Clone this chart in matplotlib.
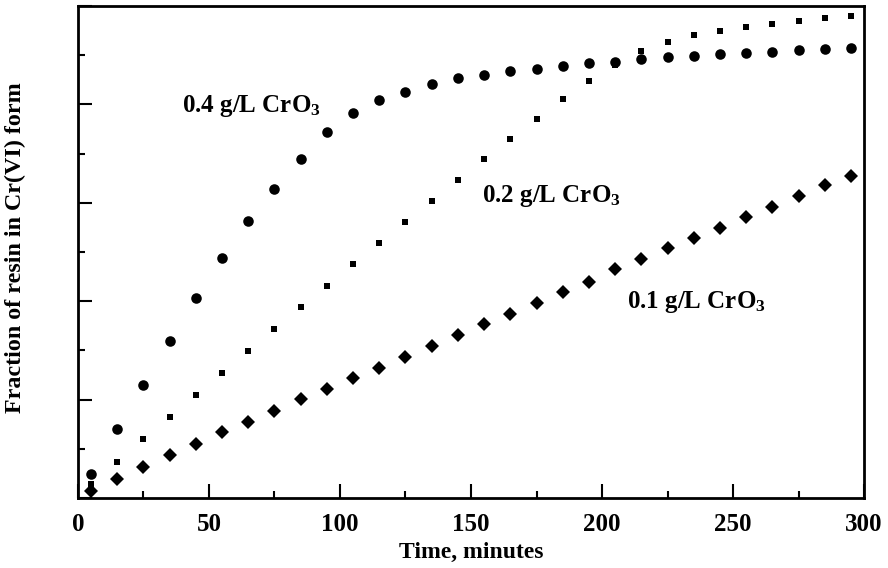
import matplotlib
matplotlib.use("Agg")
import matplotlib.pyplot as plt
from matplotlib.ticker import MultipleLocator, NullFormatter

plt.rcParams['font.family'] = ['Liberation Serif', 'DejaVu Serif']
plt.rcParams['font.weight'] = 'bold'
plt.rcParams['mathtext.default'] = 'regular'

# tempo em minutos (mesmo para as tres curvas)
tempo = [5, 15, 25, 35, 45, 55, 65, 75, 85, 95, 105, 115, 125, 135, 145,
         155, 165, 175, 185, 195, 205, 215, 225, 235, 245, 255, 265, 275, 285, 295]

# 0.4 g/L CrO3 (circulos)
frac_04 = [0.049, 0.140, 0.230, 0.319, 0.406, 0.488, 0.563, 0.628, 0.690, 0.744,
           0.783, 0.809, 0.825, 0.841, 0.854, 0.860, 0.868, 0.872, 0.878, 0.884,
           0.886, 0.893, 0.896, 0.898, 0.902, 0.905, 0.907, 0.911, 0.913, 0.915]

# 0.2 g/L CrO3 (quadrados pequenos)
frac_02 = [0.028, 0.073, 0.120, 0.165, 0.209, 0.254, 0.299, 0.343, 0.388, 0.431,
           0.475, 0.518, 0.561, 0.604, 0.646, 0.689, 0.730, 0.770, 0.811, 0.848,
           0.880, 0.909, 0.927, 0.941, 0.949, 0.957, 0.963, 0.970, 0.976, 0.980]

# 0.1 g/L CrO3 (losangos)
frac_01 = [0.014, 0.039, 0.063, 0.087, 0.110, 0.134, 0.155, 0.177, 0.201, 0.221,
           0.244, 0.264, 0.286, 0.309, 0.331, 0.353, 0.374, 0.396, 0.418, 0.439,
           0.465, 0.486, 0.508, 0.529, 0.549, 0.571, 0.592, 0.614, 0.636, 0.654]

rotulos = ['0.4 g/L CrO$_3$', '0.2 g/L CrO$_3$', '0.1 g/L CrO$_3$']

fig = plt.figure(figsize=(8.88, 5.68), dpi=100)
ax = fig.add_axes([0.0878, 0.1232, 0.8852, 0.8662])

ax.plot(tempo, frac_01, 'D', color='black', markersize=7.6, markeredgewidth=0)
ax.plot(tempo, frac_02, 's', color='black', markersize=4.2, markeredgewidth=0)
ax.plot(tempo, frac_04, 'o', color='black', markersize=7.6, markeredgewidth=0)

ax.set_xlim(0, 300)
ax.set_ylim(0, 1)
ax.xaxis.set_major_locator(MultipleLocator(50))
ax.xaxis.set_minor_locator(MultipleLocator(25))
ax.yaxis.set_major_locator(MultipleLocator(0.2))
ax.yaxis.set_minor_locator(MultipleLocator(0.1))
ax.yaxis.set_major_formatter(NullFormatter())
ax.tick_params(axis='both', which='major', direction='in', length=10, width=1.5)
ax.tick_params(axis='both', which='minor', direction='in', length=5, width=1.5)
ax.tick_params(axis='x', labelsize=18, pad=11)
for s in ax.spines.values():
    s.set_linewidth(2)

ax.set_xlabel('Time, minutes', fontsize=17, fontweight='bold', labelpad=4)
ax.set_ylabel('Fraction of resin in Cr(VI) form', fontsize=17.3, fontweight='bold', va='center')
ax.yaxis.set_label_coords(-0.079, 0.508)

ax.text(39.7, 0.785, rotulos[0], fontsize=18, fontweight='bold')
ax.text(154.2, 0.602, rotulos[1], fontsize=18, fontweight='bold')
ax.text(209.5, 0.386, rotulos[2], fontsize=18, fontweight='bold')

fig.savefig('out.png', dpi=100)
